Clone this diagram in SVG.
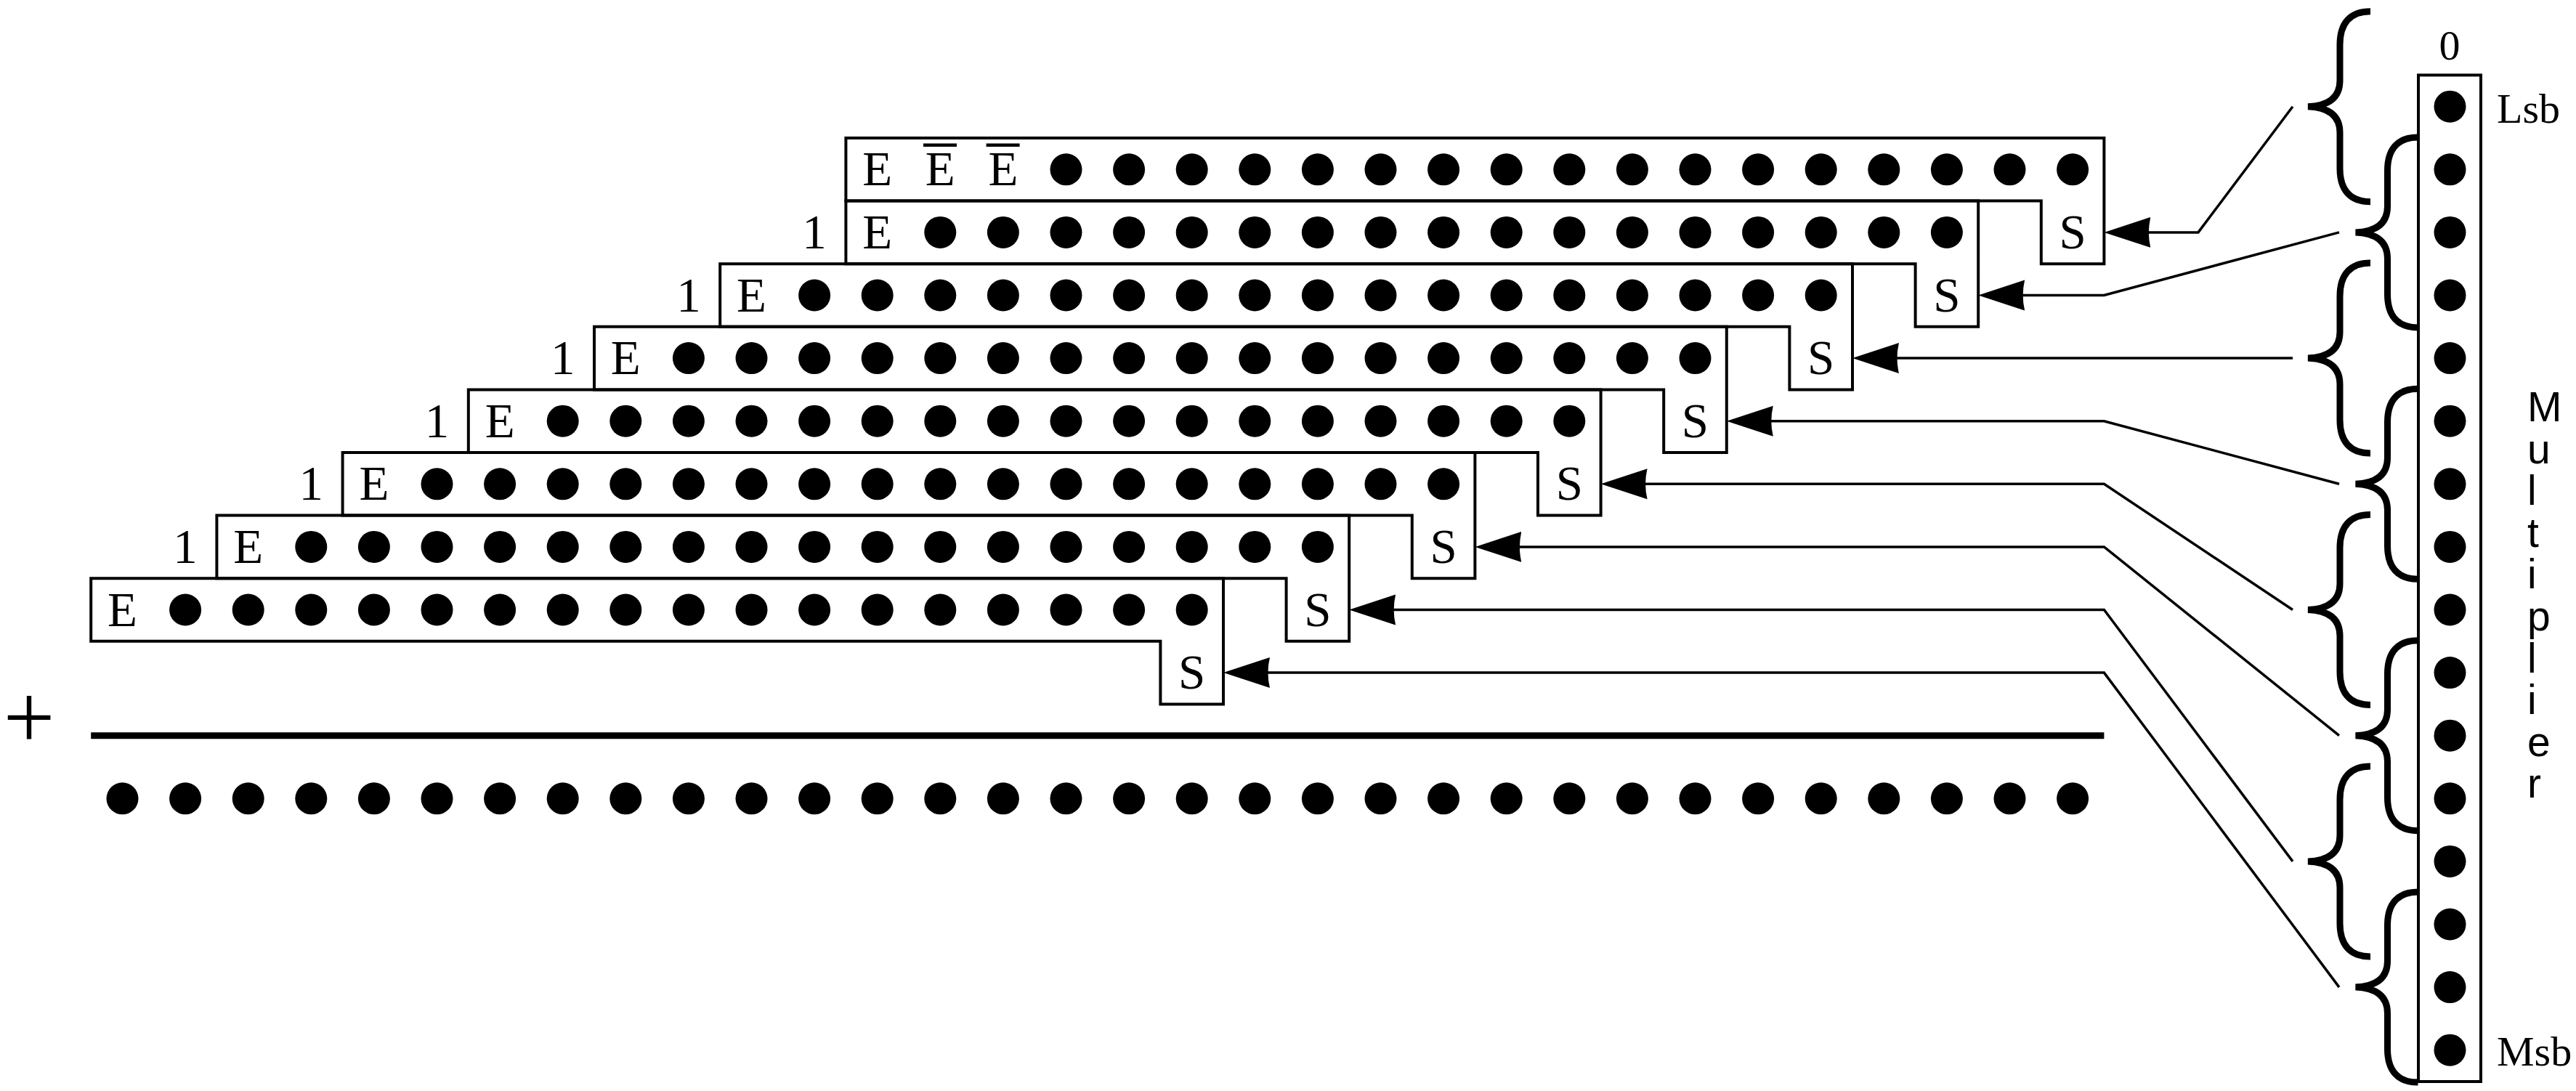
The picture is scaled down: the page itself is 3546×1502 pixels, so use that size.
<svg xmlns="http://www.w3.org/2000/svg" xmlns:xlink="http://www.w3.org/1999/xlink" width="3546" height="1502" viewBox="0 0 3546 1502">
<style>
.box{fill:none;stroke:#000;stroke-width:4;stroke-linejoin:miter}
.dot{fill:#000}
.t{font-family:"Liberation Serif","Times New Roman",serif;font-size:67px;text-anchor:middle;fill:#000}
.ovl{stroke:#000;stroke-width:4.5}
.lbl{font-family:"Liberation Serif","Times New Roman",serif;font-size:58px;fill:#000}
.ms{font-family:"Liberation Sans",Arial,sans-serif;font-size:57px;fill:#000}
.conn{fill:none;stroke:#000;stroke-width:3.5;stroke-linejoin:miter;marker-end:url(#ah)}
.brace{fill:none;stroke:#000;stroke-width:9}
.sum{fill:none;stroke:#000;stroke-width:9}
</style>
<defs>
<marker id="ah" viewBox="0 -22 66 44" refX="4" refY="0" markerWidth="66" markerHeight="44" markerUnits="userSpaceOnUse" orient="auto">
<path d="M0,-21 L64,0 L0,21 Q5,0 0,-21Z" fill="#000"/>
</marker>
<path id="br" class="brace" d="M86,-131 C58,-131 44,-115 44,-85 L44,-36 C44,-12 28,-1 0,0 C28,1 44,12 44,36 L44,85 C44,115 58,131 86,131"/>
<g id="d16" class="dot">
<circle cx="0" cy="0" r="22"/><circle cx="86.6" cy="0" r="22"/><circle cx="173.2" cy="0" r="22"/><circle cx="259.8" cy="0" r="22"/>
<circle cx="346.4" cy="0" r="22"/><circle cx="433" cy="0" r="22"/><circle cx="519.6" cy="0" r="22"/><circle cx="606.2" cy="0" r="22"/>
<circle cx="692.8" cy="0" r="22"/><circle cx="779.4" cy="0" r="22"/><circle cx="866" cy="0" r="22"/><circle cx="952.6" cy="0" r="22"/>
<circle cx="1039.2" cy="0" r="22"/><circle cx="1125.8" cy="0" r="22"/><circle cx="1212.4" cy="0" r="22"/><circle cx="1299" cy="0" r="22"/>
</g>
<g id="d17"><use href="#d16" xlink:href="#d16"/><circle class="dot" cx="1385.6" cy="0" r="22"/></g>
</defs>
<rect width="3546" height="1502" fill="#fff"/>

<g id="row0">
<polygon class="box" points="1164.4,190 2896.4,190 2896.4,363.2 2809.8,363.2 2809.8,276.6 1164.4,276.6"/>
<text class="t" x="1207.7" y="255.3">E</text>
<text class="t" x="1294.3" y="255.3">E</text>
<line class="ovl" x1="1271" y1="199.7" x2="1317" y2="199.7"/>
<text class="t" x="1380.9" y="255.3">E</text>
<line class="ovl" x1="1357.6" y1="199.7" x2="1403.6" y2="199.7"/>
<use href="#d17" xlink:href="#d17" x="1467.5" y="233.3"/>
<text class="t" x="2853.1" y="341.9">S</text>
</g>
<g id="row1">
<polygon class="box" points="1164.4,276.6 2723.2,276.6 2723.2,449.8 2636.6,449.8 2636.6,363.2 1164.4,363.2"/>
<text class="t" x="1121.1" y="341.9">1</text>
<text class="t" x="1207.7" y="341.9">E</text>
<use href="#d17" xlink:href="#d17" x="1294.3" y="319.9"/>
<text class="t" x="2679.9" y="428.5">S</text>
</g>
<g id="row2">
<polygon class="box" points="991.2,363.2 2550,363.2 2550,536.4 2463.4,536.4 2463.4,449.8 991.2,449.8"/>
<text class="t" x="947.9" y="428.5">1</text>
<text class="t" x="1034.5" y="428.5">E</text>
<use href="#d17" xlink:href="#d17" x="1121.1" y="406.5"/>
<text class="t" x="2506.7" y="515.1">S</text>
</g>
<g id="row3">
<polygon class="box" points="818,449.8 2376.8,449.8 2376.8,623 2290.2,623 2290.2,536.4 818,536.4"/>
<text class="t" x="774.7" y="515.1">1</text>
<text class="t" x="861.3" y="515.1">E</text>
<use href="#d17" xlink:href="#d17" x="947.9" y="493.1"/>
<text class="t" x="2333.5" y="601.7">S</text>
</g>
<g id="row4">
<polygon class="box" points="644.8,536.4 2203.6,536.4 2203.6,709.6 2117,709.6 2117,623 644.8,623"/>
<text class="t" x="601.5" y="601.7">1</text>
<text class="t" x="688.1" y="601.7">E</text>
<use href="#d17" xlink:href="#d17" x="774.7" y="579.7"/>
<text class="t" x="2160.3" y="688.3">S</text>
</g>
<g id="row5">
<polygon class="box" points="471.6,623 2030.4,623 2030.4,796.2 1943.8,796.2 1943.8,709.6 471.6,709.6"/>
<text class="t" x="428.3" y="688.3">1</text>
<text class="t" x="514.9" y="688.3">E</text>
<use href="#d17" xlink:href="#d17" x="601.5" y="666.3"/>
<text class="t" x="1987.1" y="774.9">S</text>
</g>
<g id="row6">
<polygon class="box" points="298.4,709.6 1857.2,709.6 1857.2,882.8 1770.6,882.8 1770.6,796.2 298.4,796.2"/>
<text class="t" x="255.1" y="774.9">1</text>
<text class="t" x="341.7" y="774.9">E</text>
<use href="#d17" xlink:href="#d17" x="428.3" y="752.9"/>
<text class="t" x="1813.9" y="861.5">S</text>
</g>
<g id="row7">
<polygon class="box" points="125.2,796.2 1684,796.2 1684,969.4 1597.4,969.4 1597.4,882.8 125.2,882.8"/>
<text class="t" x="168.5" y="861.5">E</text>
<use href="#d17" xlink:href="#d17" x="255.1" y="839.5"/>
<text class="t" x="1640.7" y="948.1">S</text>
</g>

<g id="sum">
<text class="t" x="40" y="1030" style="font-size:126px">+</text>
<line class="sum" x1="125.2" y1="1012.7" x2="2896.4" y2="1012.7"/>
<use href="#d16" xlink:href="#d16" x="168.5" y="1099.3"/>
<use href="#d16" xlink:href="#d16" x="1554.1" y="1099.3"/>
</g>

<g id="multiplier">
<text class="lbl" x="3372" y="82.4" text-anchor="middle">0</text>
<rect class="box" x="3329" y="103.4" width="86" height="1385.6"/>
<g class="dot">
<circle cx="3372.5" cy="146.7" r="22"/><circle cx="3372.5" cy="233.3" r="22"/><circle cx="3372.5" cy="319.9" r="22"/><circle cx="3372.5" cy="406.5" r="22"/>
<circle cx="3372.5" cy="493.1" r="22"/><circle cx="3372.5" cy="579.7" r="22"/><circle cx="3372.5" cy="666.3" r="22"/><circle cx="3372.5" cy="752.9" r="22"/>
<circle cx="3372.5" cy="839.5" r="22"/><circle cx="3372.5" cy="926.1" r="22"/><circle cx="3372.5" cy="1012.7" r="22"/><circle cx="3372.5" cy="1099.3" r="22"/>
<circle cx="3372.5" cy="1185.9" r="22"/><circle cx="3372.5" cy="1272.5" r="22"/><circle cx="3372.5" cy="1359.1" r="22"/><circle cx="3372.5" cy="1445.7" r="22"/>
</g>
<text class="lbl" x="3437" y="168.7">Lsb</text>
<text class="lbl" x="3437" y="1466.7">Msb</text>
<text class="ms" x="3479" y="580"><tspan x="3479" y="580">M</tspan><tspan x="3479" dy="57.6">u</tspan><tspan x="3479" dy="57.6">l</tspan><tspan x="3479" dy="57.6">t</tspan><tspan x="3479" dy="57.6">i</tspan><tspan x="3479" dy="57.6">p</tspan><tspan x="3479" dy="57.6">l</tspan><tspan x="3479" dy="57.6">i</tspan><tspan x="3479" dy="57.6">e</tspan><tspan x="3479" dy="57.6">r</tspan></text>
</g>

<g id="braces">
<use href="#br" xlink:href="#br" x="3177" y="146.7"/>
<use href="#br" xlink:href="#br" x="3177" y="493.1"/>
<use href="#br" xlink:href="#br" x="3177" y="839.5"/>
<use href="#br" xlink:href="#br" x="3177" y="1185.9"/>
<use href="#br" xlink:href="#br" x="3242.5" y="319.9"/>
<use href="#br" xlink:href="#br" x="3242.5" y="666.3"/>
<use href="#br" xlink:href="#br" x="3242.5" y="1012.7"/>
<use href="#br" xlink:href="#br" x="3242.5" y="1359.1"/>
</g>

<g id="connectors">
<path class="conn" d="M3156,146.7 L3026,319.9 L2956.4,319.9"/>
<path class="conn" d="M3220,319.9 L2896.4,406.5 L2783.2,406.5"/>
<path class="conn" d="M3156,493.1 L2610,493.1"/>
<path class="conn" d="M3220,666.3 L2896.4,579.7 L2436.8,579.7"/>
<path class="conn" d="M3156,839.5 L2896.4,666.3 L2263.6,666.3"/>
<path class="conn" d="M3220,1012.7 L2896.4,752.9 L2090.4,752.9"/>
<path class="conn" d="M3156,1185.9 L2896.4,839.5 L1917.2,839.5"/>
<path class="conn" d="M3220,1359.1 L2896.4,926.1 L1744,926.1"/>
</g>
</svg>
